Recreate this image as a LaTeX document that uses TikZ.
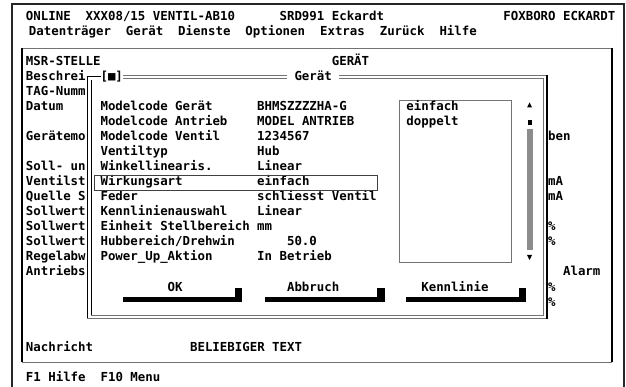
\documentclass[tikz,border=0pt]{standalone}
\usepackage{fontspec}
\newfontfamily\scrfont{DejaVu Sans Mono}
\usetikzlibrary{calc}

% character grid: column c starts at 18.5+7.46c, row r has its baseline at 21+15r
\newcommand\scrtxt[4]{\node[scr] (#1) at ({18.5+7.46*(#2)},{21+15*(#3)}) {#4};}

\tikzset{
  scr/.style={font=\scrfont\bfseries\fontsize{12.4}{15}\selectfont,
              inner sep=0pt, outer sep=0pt, anchor=base west},
  darkline/.style={line width=1.2pt, black},
  greyline/.style={line width=0.9pt, black!55},
  shadowbar/.style={fill=black, draw=none},
}

\begin{document}
\begin{tikzpicture}[x=1pt,y=-1pt]
\useasboundingbox (0,0) rectangle (626,387);

% monitor frame
\draw[line width=1.6pt, black!85] (12,387) -- (12,4) -- (624,4) -- (624,387);

% header and menu bar
\scrtxt{hdrA}{1}{0}{ONLINE~~XXX08/15 VENTIL-AB10}
\scrtxt{hdrB}{35}{0}{SRD991 Eckardt}
\scrtxt{hdrC}{65}{0}{FOXBORO ECKARDT}
\scrtxt{menu}{1.4}{1}{Datenträger~~Gerät~~Dienste~~Optionen~~Extras~~Zurück~~Hilfe}

% main window
\draw[greyline] (22,48) -- (612,48);
\draw[greyline] (22,362) -- (612,362);
\draw[darkline] (22,48) -- (22,362);
\draw[darkline] (612,48) -- (612,362);

\scrtxt{msr}{1}{3}{MSR-STELLE}
\scrtxt{geraet}{42}{3}{GERÄT}

% labels of the main window, cut by the dialog
\scrtxt{lA}{1}{4}{Beschrei}
\scrtxt{lB}{1}{5}{TAG-Numm}
\scrtxt{lC}{1}{6}{Datum}
\scrtxt{lD}{1}{8}{Gerätemo}
\scrtxt{lE}{1}{10}{Soll- un}
\scrtxt{lF}{1}{11}{Ventilst}
\scrtxt{lG}{1}{12}{Quelle S}
\scrtxt{lH}{1}{13}{Sollwert}
\scrtxt{lI}{1}{14}{Sollwert}
\scrtxt{lJ}{1}{15}{Sollwert}
\scrtxt{lK}{1}{16}{Regelabw}
\scrtxt{lL}{1}{17}{Antriebs}

% right-hand remnants
\scrtxt{rA}{71}{8}{ben}
\scrtxt{rB}{71}{11}{mA}
\scrtxt{rC}{71}{12}{mA}
\scrtxt{rD}{71}{14}{\%}
\scrtxt{rE}{71}{15}{\%}
\scrtxt{rF}{73}{17}{Alarm}
\scrtxt{rG}{71}{18}{\%}
\scrtxt{rH}{71}{19}{\%}

\scrtxt{msgL}{1}{22}{Nachricht}
\scrtxt{msgT}{23}{22}{BELIEBIGER TEXT}
\scrtxt{keys}{1}{24}{F1 Hilfe~~F10 Menu}

% dialog frame (double line)
\draw[darkline, line width=1pt] (87,318) -- (87,77) -- (100.6,77);
\draw[darkline, line width=1pt] (91,80) -- (91,315);
\draw[greyline] (123,75.5) -- (287,75.5);
\draw[greyline] (123,78.5) -- (287,78.5);
\draw[greyline] (339.3,75.5) -- (547,75.5);
\draw[greyline] (339.3,78.5) -- (543.5,78.5);
\draw[greyline] (87,318) -- (547,318);
\draw[greyline] (91,315) -- (543.5,315);
\draw[greyline] (543.5,78.5) -- (543.5,315);
\draw[line width=1.7pt, black] (547,75.5) -- (547,318.5);

\scrtxt{close}{11}{4}{[■]}
\scrtxt{title}{37}{4}{Gerät}

% dialog fields
\scrtxt{fA}{11}{6}{Modelcode Gerät}      \scrtxt{vA}{32}{6}{BHMSZZZZHA-G}
\scrtxt{fB}{11}{7}{Modelcode Antrieb}    \scrtxt{vB}{32}{7}{MODEL ANTRIEB}
\scrtxt{fC}{11}{8}{Modelcode Ventil}     \scrtxt{vC}{32}{8}{1234567}
\scrtxt{fD}{11}{9}{Ventiltyp}            \scrtxt{vD}{32}{9}{Hub}
\scrtxt{fE}{11}{10}{Winkellinearis.}     \scrtxt{vE}{32}{10}{Linear}
\scrtxt{fF}{11}{11}{Wirkungsart}         \scrtxt{vF}{32}{11}{einfach}
\scrtxt{fG}{11}{12}{Feder}               \scrtxt{vG}{32}{12}{schliesst Ventil}
\scrtxt{fH}{11}{13}{Kennlinienauswahl}   \scrtxt{vH}{32}{13}{Linear}
\scrtxt{fI}{11}{14}{Einheit Stellbereich}\scrtxt{vI}{32}{14}{mm}
\scrtxt{fJ}{11}{15}{Hubbereich/Drehwin}  \scrtxt{vJ}{36}{15}{50.0}
\scrtxt{fK}{11}{16}{Power\_Up\_Aktion}   \scrtxt{vK}{32}{16}{In Betrieb}

% selected field
\draw[line width=0.8pt, black!75] (94.5,175) rectangle (377,190);

% choice list with scroll bar
\draw[line width=0.8pt, black!55] (399,100) rectangle (511,262);
\scrtxt{oA}{52}{6}{einfach}
\scrtxt{oB}{52}{7}{doppelt}
\fill[black] (527,107.5) -- (532,107.5) -- (529.5,102.5) -- cycle;
\fill[black] (528,120) rectangle (531.5,125);
\fill[black!45] (527,129.5) rectangle (533,250);
\fill[black] (527,255) -- (532,255) -- (529.5,260) -- cycle;

% buttons with their shadows
\scrtxt{bOK}{20}{18}{OK}
\scrtxt{bAb}{36}{18}{Abbruch}
\scrtxt{bKl}{54}{18}{Kennlinie}
\fill[shadowbar] (123,296.5) rectangle (242.3,302);
\fill[shadowbar] (234.8,287.5) rectangle (242.3,302);
\fill[shadowbar] (264.7,296.5) rectangle (384.6,302);
\fill[shadowbar] (377.1,287.5) rectangle (384.6,302);
\fill[shadowbar] (406.4,296.5) rectangle (526.3,302);
\fill[shadowbar] (518.8,287.5) rectangle (526.3,302);
\end{tikzpicture}
\end{document}
